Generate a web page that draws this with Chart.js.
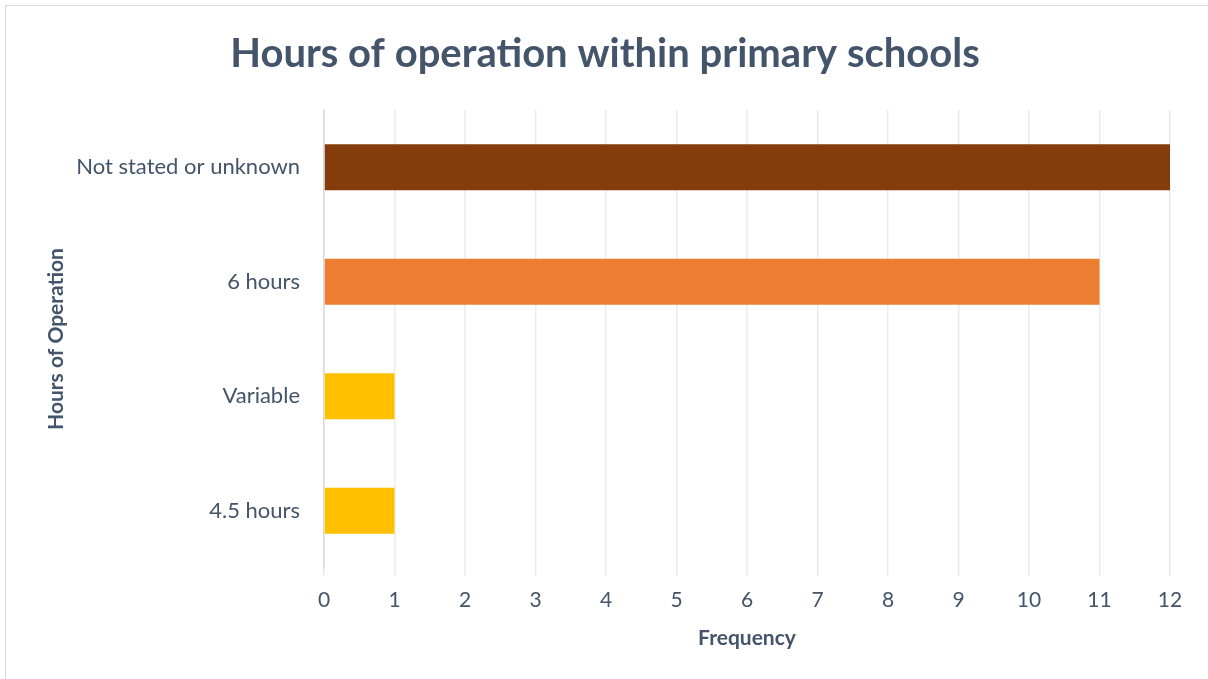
<!DOCTYPE html>
<html>
<head>
<meta charset="utf-8">
<title>Hours of operation within primary schools</title>
<script src="https://cdn.jsdelivr.net/npm/chart.js@4"></script>
<style>
    html, body { margin: 0; padding: 0; background: #fff; overflow: hidden; }
    .frame {
        position: absolute;
        left: 5px; top: 5px;
        width: 1220px; height: 700px;
        border: 1px solid #d9d9d9;
        box-sizing: border-box;
    }
    .chart-box { position: absolute; left: 0; top: 0; width: 1208px; height: 679px; }
</style>
</head>
<body>
<div class="frame"></div>
<div class="chart-box"><canvas id="hoursChart"></canvas></div>
<script>
    // Categories (top to bottom) and counts
    const categories = ['Not stated or unknown', '6 hours', 'Variable', '4.5 hours'];
    const frequencies = [12, 11, 1, 1];
    const barColors = ['#843C0C', '#ED7D31', '#FFC000', '#FFC000'];
    const xTicks = [0, 1, 2, 3, 4, 5, 6, 7, 8, 9, 10, 11, 12];

    const textColor = '#44546A';
    const fontFamily = 'Lato, "Open Sans", sans-serif';

    const ctx = document.getElementById('hoursChart').getContext('2d');
    new Chart(ctx, {
        type: 'bar',
        data: {
            labels: categories,
            datasets: [{
                label: 'Frequency',
                data: frequencies,
                backgroundColor: barColors,
                barPercentage: 0.4,
                categoryPercentage: 1
            }]
        },
        options: {
            indexAxis: 'y',
            responsive: true,
            maintainAspectRatio: false,
            animation: false,
            layout: {
                padding: { left: 40, right: 38, top: 0, bottom: 24 }
            },
            plugins: {
                legend: { display: false },
                tooltip: { enabled: false },
                title: {
                    display: true,
                    text: 'Hours of operation within primary schools',
                    color: textColor,
                    font: { family: fontFamily, size: 40, weight: 'bold' },
                    padding: { top: 30, bottom: 32 }
                }
            },
            scales: {
                x: {
                    min: 0,
                    max: 12,
                    afterBuildTicks: axis => {
                        axis.ticks = xTicks.map(v => ({ value: v }));
                    },
                    afterFit: axis => { axis.height = 87; },
                    grid: {
                        color: '#ebebeb',
                        lineWidth: 1.5,
                        tickLength: 8,
                        drawTicks: true
                    },
                    border: { display: false },
                    ticks: {
                        color: textColor,
                        font: { family: fontFamily, size: 21 },
                        padding: 12
                    },
                    title: {
                        display: true,
                        text: 'Frequency',
                        color: textColor,
                        font: { family: fontFamily, size: 21, weight: 'bold' },
                        padding: { top: 8 }
                    }
                },
                y: {
                    afterFit: axis => { axis.width = 284; },
                    grid: { display: false },
                    border: { display: true, color: '#d9d9d9', width: 1.5 },
                    ticks: {
                        color: textColor,
                        font: { family: fontFamily, size: 22 },
                        padding: 16
                    },
                    title: {
                        display: true,
                        text: 'Hours of Operation',
                        color: textColor,
                        font: { family: fontFamily, size: 21, weight: 'bold' },
                        padding: { bottom: 0 }
                    }
                }
            }
        }
    });
</script>
</body>
</html>
